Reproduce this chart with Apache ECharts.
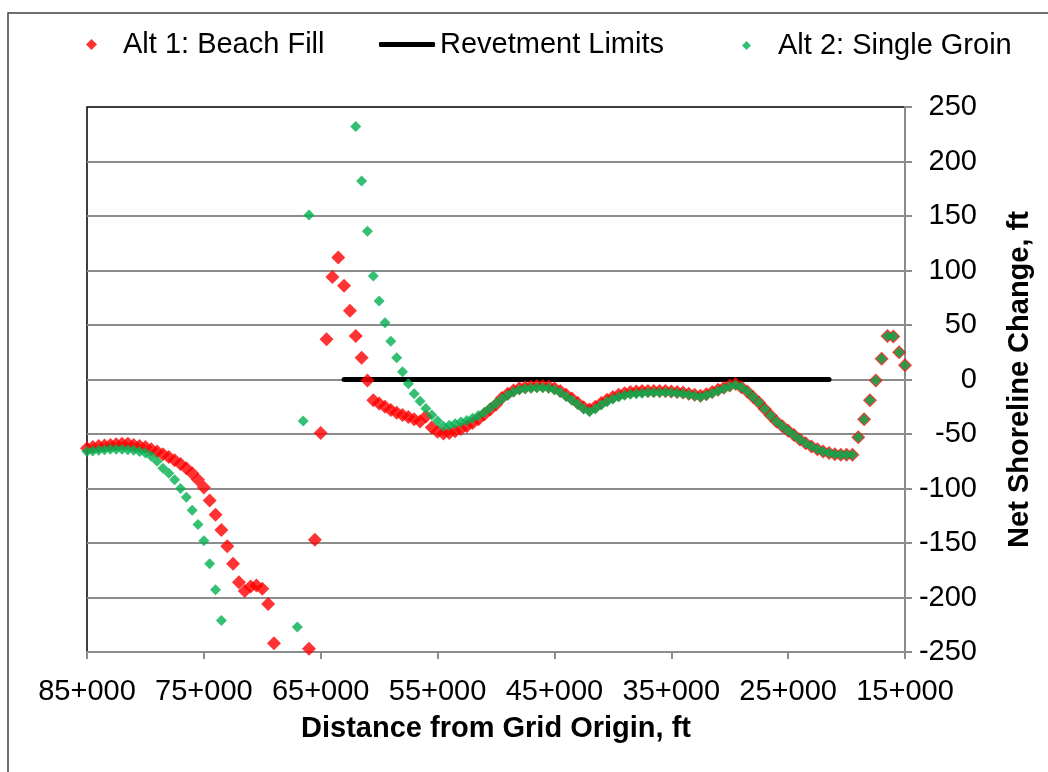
<!DOCTYPE html>
<html>
<head>
    <meta charset="utf-8" />
    <title>Net Shoreline Change</title>
    <script src="https://cdn.jsdelivr.net/npm/echarts@6/dist/echarts.min.js"></script>
    <style>
        html, body { margin: 0; padding: 0; background: #fff; }
        #chart { width: 1048px; height: 772px; }
    </style>
</head>
<body>
<div id="chart"></div>
<script type="text/javascript">
    // stations along the shoreline, ft (500 ft spacing)
    var stations = [
        85000, 84500, 84000, 83500, 83000, 82500, 82000, 81500, 81000, 80500,
        80000, 79500, 79000, 78500, 78000, 77500, 77000, 76500, 76000, 75500,
        75000, 74500, 74000, 73500, 73000, 72500, 72000, 71500, 71000, 70500,
        70000, 69500, 69000, 68500, 68000, 67500, 67000, 66500, 66000, 65500,
        65000, 64500, 64000, 63500, 63000, 62500, 62000, 61500, 61000, 60500,
        60000, 59500, 59000, 58500, 58000, 57500, 57000, 56500, 56000, 55500,
        55000, 54500, 54000, 53500, 53000, 52500, 52000, 51500, 51000, 50500,
        50000, 49500, 49000, 48500, 48000, 47500, 47000, 46500, 46000, 45500,
        45000, 44500, 44000, 43500, 43000, 42500, 42000, 41500, 41000, 40500,
        40000, 39500, 39000, 38500, 38000, 37500, 37000, 36500, 36000, 35500,
        35000, 34500, 34000, 33500, 33000, 32500, 32000, 31500, 31000, 30500,
        30000, 29500, 29000, 28500, 28000, 27500, 27000, 26500, 26000, 25500,
        25000, 24500, 24000, 23500, 23000, 22500, 22000, 21500, 21000, 20500,
        20000, 19500, 19000, 18500, 18000, 17500, 17000, 16500, 16000, 15500,
        15000
    ];

    // Alt 1: Beach Fill, net shoreline change (ft); null = off the plotted range
    var alt1 = [
        -63, -62, -61, -60.5, -60, -59.5, -59, -59, -60, -61,
        -62, -64, -66, -68.5, -71, -74, -77.5, -81.5, -86, -92,
        -99, -111, -124, -138, -153, -169, -186, -194, -190, -189,
        -192, -206, -242, null, null, null, null, null, -247, -147,
        -49, 37, 94, 112, 86, 63, 40, 20, -1, -19,
        -22, -25, -28, -30.5, -32.5, -34.5, -36.5, -38.5, -34, -44,
        -48, -49.5, -49, -47.5, -45.5, -43, -40, -36.5, -32, -27.5,
        -23, -17, -13, -10, -8, -7, -6.5, -6, -6, -6.5,
        -8, -10.5, -14, -17.5, -21.5, -25.5, -27.5, -25, -21.5, -18.5,
        -16, -14, -12.5, -11.5, -11, -10.5, -10.5, -10.5, -10.5, -10.5,
        -11, -11.5, -12, -13, -14, -15, -13.5, -11.5, -9.5, -7.5,
        -5.5, -4, -7, -11, -16, -21, -27, -33, -38.5, -43,
        -47, -51, -55, -58.5, -61.5, -64, -66, -67.5, -68.5, -69,
        -69, -69, -53, -36.5, -19, -1, 19, 40, 39.5, 25,
        13
    ];

    // Alt 2: Single Groin
    var alt2 = [
        -66, -65.5, -65, -64.5, -64, -64, -64, -64.5, -65, -66,
        -67.5, -70.5, -75, -81.5, -86, -92, -100, -108, -120, -133,
        -148, -169, -193, -221, null, null, null, null, null, null,
        null, null, null, null, null, null, -227, -38, 151, null,
        null, null, null, null, null, null, 232, 182, 136, 95,
        72, 52, 35, 20, 7, -4, -13, -20, -26.5, -32.5,
        -38, -43, -42, -40.5, -39, -37.5, -35.5, -33, -30, -26,
        -22, -18, -14.5, -11.5, -9.5, -8.5, -8, -7.5, -7.5, -8,
        -9.5, -12, -15.5, -19, -23, -27, -29.5, -27, -23.5, -20.5,
        -18, -16, -14.5, -13.5, -13, -12.5, -12, -12, -12, -12,
        -12, -12.5, -13, -14, -15, -16, -14.5, -12.5, -10.5, -8.5,
        -6.5, -5, -7, -11, -16, -21, -27, -33, -38.5, -43,
        -47, -51, -55, -58.5, -61.5, -64, -66, -67.5, -68.5, -69,
        -69, -69, -53, -36.5, -19, -1, 19, 40, 39.5, 25,
        13
    ];

    // revetment limits (start / end station) drawn at zero change
    var revetmentStations = [63000, 21500];
    var revetmentValues = [0, 0];

    var xTicks = [85000, 75000, 65000, 55000, 45000, 35000, 25000, 15000];
    var xTickLabels = ['85+000', '75+000', '65+000', '55+000', '45+000', '35+000', '25+000', '15+000'];

    function pairs(xs, ys) {
        var out = [];
        for (var i = 0; i < xs.length; i++) {
            if (ys[i] !== null) out.push([xs[i], ys[i]]);
        }
        return out;
    }

    var FONT = "'Liberation Sans', Arial, sans-serif";
    var GRAY = '#8c8c8c';
    var FS = 29;

    var myChart = echarts.init(document.getElementById('chart'), null, { renderer: 'canvas' });

    var option = {
        animation: false,
        backgroundColor: '#fff',
        textStyle: { fontFamily: FONT },
        graphic: [
            {
                type: 'rect',
                shape: { x: 8, y: 13, width: 1100, height: 820 },
                style: { fill: null, stroke: '#404040', lineWidth: 1.5 },
                silent: true
            }
        ],
        legend: [
            {
                data: ['Alt 1: Beach Fill'],
                left: 86, top: 30, padding: 0,
                icon: 'diamond', itemWidth: 11, itemHeight: 11,
                textStyle: { fontSize: FS, color: '#000', fontFamily: FONT, padding: [0, 0, 0, 21] }
            },
            {
                data: ['Revetment Limits'],
                left: 379, top: 30, padding: 0,
                icon: 'roundRect', itemWidth: 56, itemHeight: 5,
                textStyle: { fontSize: FS, color: '#000', fontFamily: FONT }
            },
            {
                // marker sits a little below the text line in the original
                data: ['Alt 2: Single Groin'],
                left: 742, top: 31, padding: 0,
                icon: 'diamond', itemWidth: 9, itemHeight: 9,
                textStyle: { fontSize: FS, color: '#000', fontFamily: FONT, padding: [0, 0, 16, 22] }
            }
        ],
        grid: {
            left: 87, right: 143, top: 107, bottom: 120,
            show: true, borderColor: '#000', borderWidth: 1.5,
            containLabel: false
        },
        xAxis: {
            type: 'value',
            inverse: true,
            min: 15000,
            max: 85000,
            name: 'Distance from Grid Origin, ft',
            nameLocation: 'middle',
            nameGap: 62,
            nameTextStyle: { fontSize: FS, fontWeight: 'bold', color: '#000', fontFamily: FONT },
            axisLine: { show: true, onZero: false, lineStyle: { color: GRAY, width: 2 } },
            axisTick: { show: true, inside: false, length: 7, customValues: xTicks, lineStyle: { color: GRAY, width: 2 } },
            axisLabel: {
                customValues: xTicks,
                margin: 25,
                fontSize: FS,
                color: '#000',
                fontFamily: FONT,
                formatter: function (v) {
                    var i = xTicks.indexOf(v);
                    return i >= 0 ? xTickLabels[i] : '';
                }
            },
            splitLine: { show: false }
        },
        yAxis: {
            type: 'value',
            position: 'right',
            min: -250,
            max: 250,
            interval: 50,
            name: 'Net Shoreline Change, ft',
            nameLocation: 'middle',
            nameRotate: 90,
            nameGap: 100,
            nameTextStyle: { fontSize: FS, fontWeight: 'bold', color: '#000', fontFamily: FONT },
            axisLine: { show: true, onZero: false, lineStyle: { color: GRAY, width: 2 } },
            axisTick: { show: true, inside: false, length: 7, lineStyle: { color: GRAY, width: 2 } },
            axisLabel: { align: 'right', margin: 72, fontSize: FS, color: '#000', fontFamily: FONT },
            splitLine: { show: true, showMaxLine: false, lineStyle: { color: GRAY, width: 2 } }
        },
        series: [
            {
                name: 'Revetment Limits',
                type: 'line',
                data: pairs(revetmentStations, revetmentValues),
                symbol: 'none',
                color: '#000',
                lineStyle: { color: '#000', width: 5, cap: 'round' },
                z: 2
            },
            {
                name: 'Alt 1: Beach Fill',
                type: 'scatter',
                data: pairs(stations, alt1),
                symbol: 'diamond',
                symbolSize: 14,
                itemStyle: { color: '#ff0000' },
                z: 3
            },
            {
                name: 'Alt 2: Single Groin',
                type: 'scatter',
                data: pairs(stations, alt2),
                symbol: 'diamond',
                symbolSize: 11,
                itemStyle: { color: '#00b050' },
                z: 4
            }
        ]
    };
    myChart.setOption(option);
</script>
</body>
</html>
